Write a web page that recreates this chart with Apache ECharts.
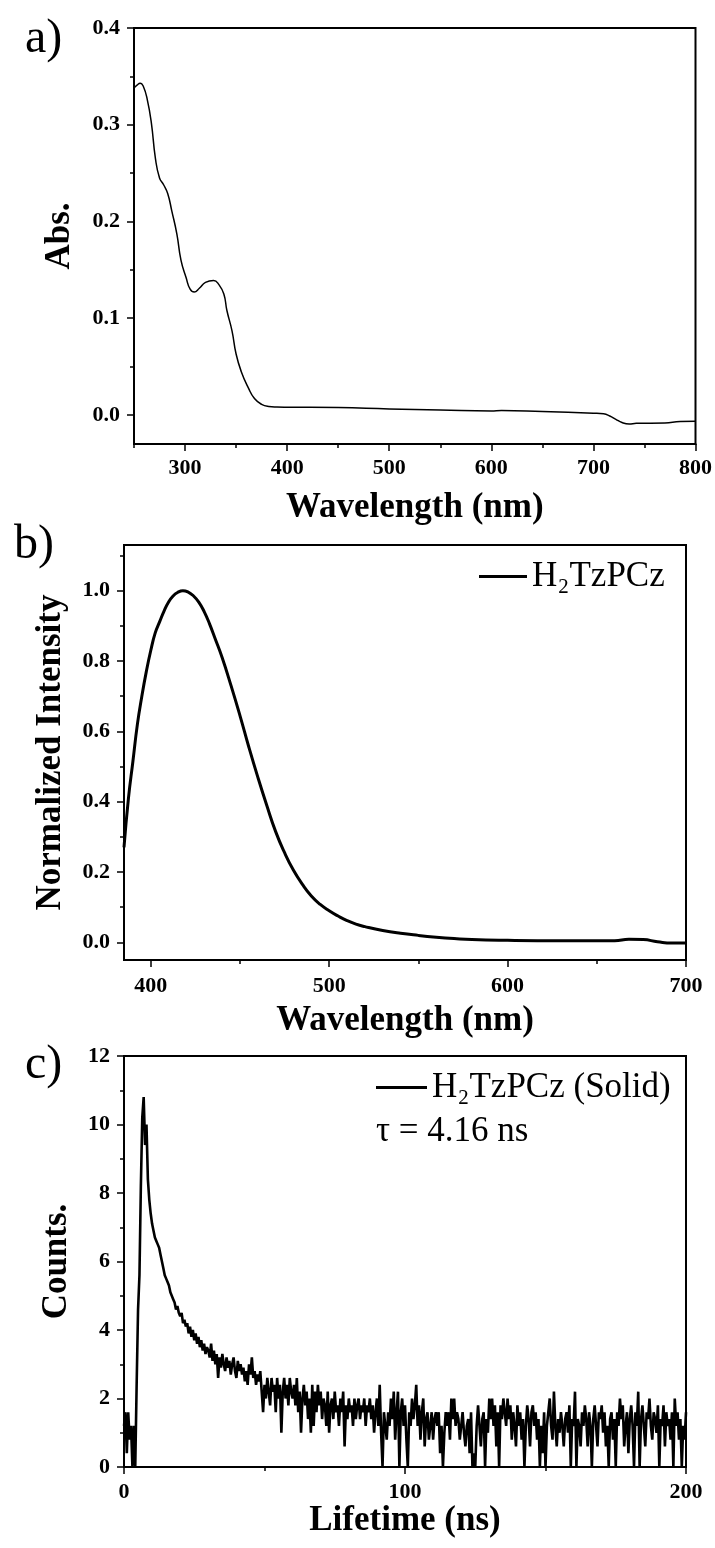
<!DOCTYPE html>
<html>
<head>
<meta charset="utf-8">
<script src="https://cdn.jsdelivr.net/npm/echarts@6/dist/echarts.min.js"></script>
<style>
  html, body { margin: 0; padding: 0; background: #ffffff; }
  #chart { width: 715px; height: 1548px; }
</style>
</head>
<body>
<div id="chart"></div>
<script>
// ---- (a) UV-Vis absorption ----
const absWavelength = [250, 253, 256, 259, 263, 267, 271, 275, 279, 283, 287, 292, 296, 301, 305, 309, 314, 320, 328, 333, 338, 341, 346, 350, 355, 362, 368, 375, 382, 390, 400, 450, 500, 550, 600, 610, 650, 700, 710, 716, 722, 728, 735, 742, 770, 785, 800];
const absValues = [0.338, 0.341, 0.343, 0.340, 0.326, 0.302, 0.265, 0.245, 0.238, 0.229, 0.211, 0.187, 0.160, 0.142, 0.130, 0.127, 0.131, 0.137, 0.139, 0.135, 0.125, 0.108, 0.087, 0.063, 0.045, 0.028, 0.017, 0.011, 0.0088, 0.0082, 0.0080, 0.0076, 0.0062, 0.0052, 0.0042, 0.0046, 0.0035, 0.0018, 0.0012, -0.0010, -0.0045, -0.0078, -0.0093, -0.0086, -0.0083, -0.0068, -0.0066];
const absXTicks = [300, 400, 500, 600, 700, 800];
const absXMinor = [250, 350, 450, 550, 650, 750];
const absYTicks = [0.0, 0.1, 0.2, 0.3, 0.4];
const absYMinor = [0.05, 0.15, 0.25, 0.35];

// ---- (b) photoluminescence ----
const plWavelength = [385, 387.5, 390, 392.5, 395, 397.5, 400, 402.5, 405, 407.5, 410, 412.5, 415, 418, 421, 424, 427, 430, 433, 436, 440, 445, 450, 455, 460, 465, 470, 475, 480, 485, 490, 495, 500, 505, 510, 515, 520, 530, 540, 550, 560, 570, 580, 600, 630, 660, 668, 676, 684, 692, 700];
const plValues = [0.27, 0.41, 0.515, 0.62, 0.70, 0.77, 0.83, 0.88, 0.912, 0.943, 0.968, 0.985, 0.995, 1.0, 0.996, 0.985, 0.967, 0.94, 0.905, 0.865, 0.81, 0.73, 0.645, 0.555, 0.47, 0.39, 0.315, 0.255, 0.205, 0.165, 0.132, 0.108, 0.09, 0.075, 0.062, 0.052, 0.045, 0.034, 0.026, 0.020, 0.015, 0.011, 0.008, 0.006, 0.005, 0.005, 0.009, 0.008, 0.002, -0.002, -0.002];
const plXTicks = [400, 500, 600, 700];
const plXMinor = [450, 550, 650];
const plYTicks = [0.0, 0.2, 0.4, 0.6, 0.8, 1.0];
const plYMinor = [0.1, 0.3, 0.5, 0.7, 0.9, 1.1];
const plName = 'H\u2082TzPCz';

// ---- (c) time-resolved decay, one value per 0.5 ns channel from 0 ns ----
const decayStepNs = 0.5;
const decayCounts = [
  1.2, 1.6, 0.4, 1.6, 0.8, 1.2, 0, 1.2, 0, 2.4,
  4.6, 5.6, 8.2, 10.2, 10.8, 9.4, 10.0, 8.4, 7.8, 7.4,
  7.1, 6.9, 6.7, 6.6, 6.5, 6.4, 6.2, 6.0, 5.8, 5.6,
  5.5, 5.4, 5.3, 5.1, 5.0, 4.9, 4.8, 4.6, 4.7, 4.5,
  4.4, 4.5, 4.2, 4.3, 4.1, 4.2, 3.9, 4.1, 3.8, 4.0,
  3.7, 3.9, 3.6, 3.8, 3.5, 3.7, 3.4, 3.6, 3.3, 3.5,
  3.4, 3.2, 3.6, 3.1, 3.4, 3.0, 3.3, 2.6, 3.2, 2.9,
  3.3, 3.0, 2.8, 3.2, 2.9, 3.1, 2.7, 3.0, 3.2, 2.8,
  2.6, 3.1, 2.8, 3.0, 2.7, 2.9, 2.5, 2.8, 2.4, 3.0,
  2.7, 3.2, 2.6, 2.8, 2.4, 2.7, 2.5, 2.8, 2.2, 1.6,
  2.4, 2.0, 2.6, 2.2, 1.8, 2.6, 2.2, 2.4, 1.6, 2.6,
  2.0, 2.4, 1.0, 2.2, 2.6, 2.0, 2.4, 1.8, 2.6, 2.2,
  2.0, 2.4, 1.8, 2.6, 1.6, 2.2, 1.0, 2.0, 2.4, 1.8,
  2.2, 1.4, 2.0, 1.0, 2.4, 1.2, 2.2, 1.6, 2.4, 1.8,
  2.2, 1.4, 2.0, 1.8, 1.2, 2.2, 1.0, 1.8, 2.0, 1.4,
  2.2, 1.6, 1.8, 1.2, 2.0, 1.6, 2.2, 0.6, 1.8, 1.4,
  2.0, 1.6, 1.8, 1.2, 2.0, 1.4, 1.8, 2.0, 1.4, 1.8,
  1.6, 2.0, 1.2, 1.8, 1.6, 2.0, 1.4, 1.8, 1.0, 1.6,
  2.0, 1.2, 2.4, 1.0, 0, 1.6, 1.2, 0.8, 1.6, 1.2,
  2.0, 1.4, 2.2, 0.8, 1.6, 2.2, 0, 1.6, 2.0, 1.2,
  1.8, 0.8, 0, 1.6, 1.2, 2.0, 1.4, 1.8, 2.4, 1.2,
  1.8, 0.8, 1.6, 2.0, 0.6, 1.4, 1.6, 0.8, 1.2, 1.6,
  0.8, 1.4, 1.6, 1.2, 1.6, 0.4, 1.2, 0, 1.0, 1.6,
  1.2, 1.6, 0.8, 2.0, 1.4, 2.0, 1.2, 1.6, 1.4, 0.8,
  1.2, 1.6, 1.0, 0.6, 1.2, 1.4, 0.4, 1.6, 0, 0.4,
  0, 1.2, 1.8, 1.2, 0.6, 1.4, 1.6, 0, 1.4, 1.0,
  2.0, 1.4, 2.0, 1.2, 1.8, 0.6, 1.6, 0, 1.8, 1.4,
  2.0, 1.6, 1.2, 2.0, 1.4, 1.8, 0.8, 1.6, 1.2, 0.6,
  1.8, 1.2, 1.6, 0.8, 1.4, 0, 1.2, 1.8, 1.4, 0.6,
  1.6, 1.8, 1.2, 1.6, 0.8, 1.4, 0, 1.2, 0.4, 1.6,
  0, 1.2, 1.6, 2.0, 1.2, 0.8, 2.2, 1.2, 0.6, 1.4,
  1.0, 1.6, 1.2, 0.6, 1.4, 1.6, 1.0, 1.8, 0, 1.4,
  1.2, 2.2, 0, 1.4, 1.2, 0.6, 1.6, 1.2, 1.8, 1.4,
  0.6, 1.6, 1.2, 0, 1.4, 1.8, 1.2, 0.6, 1.6, 1.4,
  1.8, 1.0, 1.6, 0.6, 1.2, 0, 1.4, 1.6, 0.8, 1.4,
  0, 1.6, 1.2, 2.0, 1.4, 1.8, 0.6, 1.2, 1.6, 0.4,
  1.4, 1.8, 1.2, 0, 1.6, 1.2, 2.2, 0, 1.4, 1.8,
  1.2, 0.6, 1.6, 1.4, 2.0, 1.2, 0.8, 1.6, 1.4, 1.0,
  1.8, 0, 1.4, 1.2, 1.8, 0.6, 1.6, 1.2, 1.4, 0.8,
  1.6, 0, 2.0, 1.2, 1.6, 0.8, 1.4, 0, 1.2, 0.8,
  1.6
];
const decayXTicks = [0, 100, 200];
const decayXMinor = [50, 150];
const decayYTicks = [0, 2, 4, 6, 8, 10, 12];
const decayYMinor = [1, 3, 5, 7, 9, 11];
const decayName = 'H\u2082TzPCz (Solid)';
const decayLifetime = '\u03C4 = 4.16 ns';

const SERIF = '"Liberation Serif", "Times New Roman", serif';
const INK = '#000000';

function pairs(xs, ys) { return xs.map((x, i) => [x, ys[i]]); }

function majorAxis(grid, pos, min, max, ticks, fmt, name, nameGap, labelMargin) {
  return {
    type: 'value', gridIndex: grid, position: pos, min: min, max: max,
    name: name, nameLocation: 'middle', nameGap: nameGap,
    nameTextStyle: { fontFamily: SERIF, fontWeight: 'bold', fontSize: 35, color: INK },
    axisLine: { show: true, onZero: false, lineStyle: { color: INK, width: 2 } },
    axisTick: { show: true, inside: false, length: 7, customValues: ticks, lineStyle: { color: INK, width: 1.5 } },
    axisLabel: { show: true, customValues: ticks, formatter: fmt, margin: labelMargin,
      fontFamily: SERIF, fontWeight: 'bold', fontSize: 22, color: INK },
    splitLine: { show: false }
  };
}
// tick-only companion axis carrying the minor ticks
function minorAxis(grid, pos, min, max, ticks) {
  return {
    type: 'value', gridIndex: grid, position: pos, min: min, max: max,
    axisLine: { show: false, onZero: false },
    axisTick: { show: true, inside: false, length: 4, customValues: ticks, lineStyle: { color: INK, width: 1.5 } },
    axisLabel: { show: false },
    splitLine: { show: false }
  };
}
const f1 = v => v.toFixed(1);
const f0 = v => String(Math.round(v));

const gridBox = { show: true, borderColor: INK, borderWidth: 2, backgroundColor: 'transparent' };
const legendText = { fontFamily: SERIF, fontSize: 35, color: INK };

const option = {
  backgroundColor: '#ffffff',
  animation: false,
  grid: [
    Object.assign({ left: 134, top: 28, width: 564, height: 416 }, gridBox),
    Object.assign({ left: 124, top: 545, width: 562, height: 415 }, gridBox),
    Object.assign({ left: 124, top: 1056, width: 562, height: 411 }, gridBox)
  ],
  xAxis: [
    majorAxis(0, 'bottom', 250, 800, absXTicks, f0, 'Wavelength (nm)', 46, 13),
    minorAxis(0, 'bottom', 250, 800, absXMinor),
    majorAxis(1, 'bottom', 385, 700, plXTicks, f0, 'Wavelength (nm)', 43, 15),
    minorAxis(1, 'bottom', 385, 700, plXMinor),
    majorAxis(2, 'bottom', 0, 200, decayXTicks, f0, 'Lifetime (ns)', 33, 14),
    minorAxis(2, 'bottom', 0, 200, decayXMinor)
  ],
  yAxis: [
    majorAxis(0, 'left', -0.03, 0.4, absYTicks, f1, 'Abs.', 57, 14),
    minorAxis(0, 'left', -0.03, 0.4, absYMinor),
    majorAxis(1, 'left', -0.05, 1.13, plYTicks, f1, 'Normalized Intensity', 56, 14),
    minorAxis(1, 'left', -0.05, 1.13, plYMinor),
    majorAxis(2, 'left', 0, 12, decayYTicks, f0, 'Counts.', 50, 14),
    minorAxis(2, 'left', 0, 12, decayYMinor)
  ],
  legend: [
    { data: [plName], left: 479, top: 559, padding: 0, icon: 'rect', itemWidth: 48, itemHeight: 3,
      selectedMode: false, textStyle: legendText },
    { data: [decayName], left: 376, top: 1070, padding: 0, icon: 'rect', itemWidth: 51, itemHeight: 3,
      selectedMode: false, textStyle: legendText }
  ],
  series: [
    { name: 'Abs.', type: 'line', xAxisIndex: 0, yAxisIndex: 0, data: pairs(absWavelength, absValues),
      showSymbol: false, smooth: 0.5, color: INK,
      lineStyle: { color: INK, width: 1.5 } },
    { name: plName, type: 'line', xAxisIndex: 2, yAxisIndex: 2, data: pairs(plWavelength, plValues),
      showSymbol: false, smooth: 0.5, color: INK,
      lineStyle: { color: INK, width: 3 } },
    { name: decayName, type: 'line', xAxisIndex: 4, yAxisIndex: 4,
      data: decayCounts.map((c, i) => [i * decayStepNs, c]),
      showSymbol: false, sampling: null, color: INK,
      lineStyle: { color: INK, width: 2.6 } }
  ],
  graphic: [
    { type: 'text', left: 25, top: 15, style: { text: 'a)', font: '48px ' + SERIF, fill: INK } },
    { type: 'text', left: 14, top: 521, style: { text: 'b)', font: '48px ' + SERIF, fill: INK } },
    { type: 'text', left: 25, top: 1041, style: { text: 'c)', font: '48px ' + SERIF, fill: INK } },
    { type: 'text', left: 376, top: 1114, style: { text: decayLifetime, font: '35px ' + SERIF, fill: INK } }
  ]
};

const chart = echarts.init(document.getElementById('chart'), null, { renderer: 'canvas' });
chart.setOption(option);
</script>
</body>
</html>
